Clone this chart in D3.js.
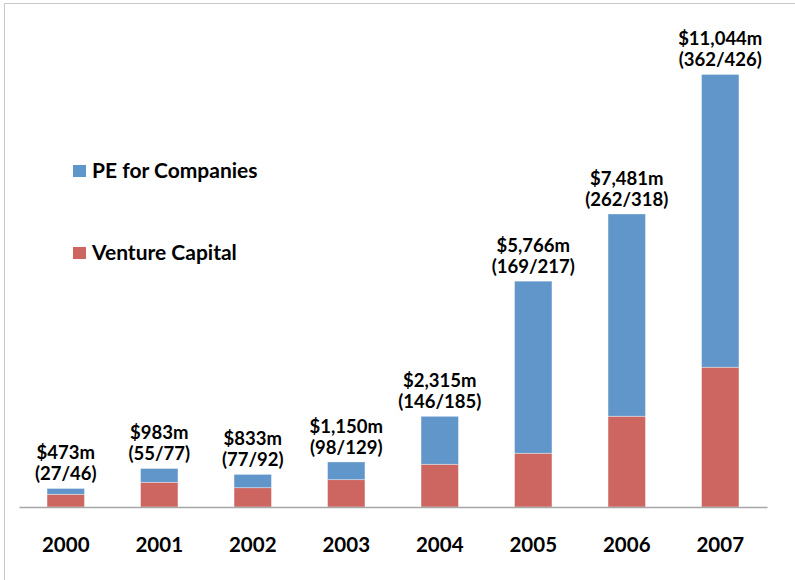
<!DOCTYPE html>
<html lang="en">
<head>
<meta charset="UTF-8">
<title>PE and VC investment 2000-2007</title>
<style>
  body { margin: 0; background: #fff; }
  svg { display: block; font-family: Lato, "Open Sans", sans-serif; font-weight: bold; }
</style>
</head>
<body>
<svg></svg>
<script src="https://d3js.org/d3.v7.min.js"></script>
<script>
// data ($m)
const years = ['2000', '2001', '2002', '2003', '2004', '2005', '2006', '2007'];
const ventureCapital = [325, 631, 493, 698, 1091, 1372, 2317, 3569];
const peForCompanies = [148, 352, 340, 452, 1224, 4394, 5164, 7475];
const totalLabels = ['$473m', '$983m', '$833m', '$1,150m', '$2,315m', '$5,766m', '$7,481m', '$11,044m'];
const dealLabels = ['(27/46)', '(55/77)', '(77/92)', '(98/129)', '(146/185)', '(169/217)', '(262/318)', '(362/426)'];
const seriesNames = ['Venture Capital', 'PE for Companies'];
const colors = ['#cd6660', '#6096c9'];

const width = 795, height = 580;
const svg = d3.select('svg').attr('width', width).attr('height', height);

const rows = years.map((y, i) => ({ year: y, vc: ventureCapital[i], pe: peForCompanies[i] }));
const stack = d3.stack().keys(['vc', 'pe'])(rows);

const x = d3.scaleBand()
  .domain(years)
  .range([19, 767])
  .paddingInner(0.6)
  .paddingOuter(0.3);

const y = d3.scaleLinear()
  .domain([0, 12000])
  .range([507, 37]);

// frame
svg.append('path')
  .attr('d', 'M4.5,580V3.5H795')
  .attr('fill', 'none')
  .attr('stroke', '#c8c8c8');

// bars
svg.selectAll('.series')
  .data(stack)
  .enter()
  .append('g')
  .attr('fill', (d, i) => colors[i])
  .selectAll('rect')
  .data(d => d)
  .enter()
  .append('rect')
  .attr('x', d => x(d.data.year))
  .attr('y', d => y(d[1]))
  .attr('width', x.bandwidth())
  .attr('height', d => y(d[0]) - y(d[1]))
  .attr('stroke', '#ffffff')
  .attr('stroke-opacity', 0.45)
  .attr('stroke-width', 0.8);

// x axis
const xAxis = svg.append('g')
  .attr('transform', `translate(0,${y(0)})`)
  .call(d3.axisBottom(x).tickSize(0).tickPadding(30));
xAxis.select('.domain').attr('stroke', '#a6a6a6').attr('stroke-width', 1.5);
xAxis.selectAll('text')
  .attr('font-family', 'Lato, sans-serif')
  .attr('font-weight', 'bold')
  .attr('font-size', 20.5)
  .attr('fill', '#000');

// value labels
const totals = rows.map(d => d.vc + d.pe);
const labels = svg.append('g')
  .attr('text-anchor', 'middle')
  .attr('font-size', 18.5)
  .attr('fill', '#000');
labels.selectAll('.total')
  .data(years)
  .enter()
  .append('text')
  .attr('x', d => x(d) + x.bandwidth() / 2)
  .attr('y', (d, i) => y(totals[i]) - 29)
  .text((d, i) => totalLabels[i]);
labels.selectAll('.deals')
  .data(years)
  .enter()
  .append('text')
  .attr('x', d => x(d) + x.bandwidth() / 2)
  .attr('y', (d, i) => y(totals[i]) - 8)
  .text((d, i) => dealLabels[i]);

// legend
const legend = svg.append('g').attr('font-size', 21);
const legendItems = [
  { name: seriesNames[1], color: colors[1], y: 165 },
  { name: seriesNames[0], color: colors[0], y: 247 }
];
legendItems.forEach(d => {
  legend.append('rect')
    .attr('x', 73).attr('y', d.y)
    .attr('width', 13).attr('height', 12)
    .attr('fill', d.color);
  legend.append('text')
    .attr('x', 92).attr('y', d.y + 13)
    .attr('fill', '#000')
    .text(d.name);
});
</script>
</body>
</html>
